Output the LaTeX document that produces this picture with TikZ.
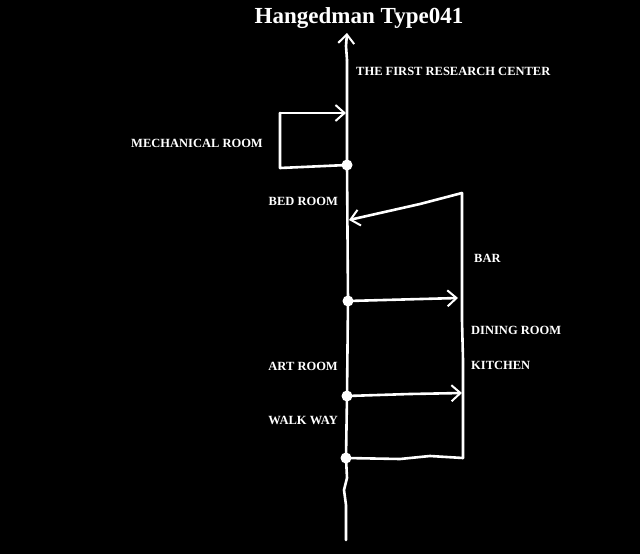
\documentclass[tikz,border=0pt]{standalone}
\usepackage{fontspec}
\setmainfont{Liberation Serif}
\usetikzlibrary{arrows.meta}
\begin{document}
\begin{tikzpicture}[x=1pt,y=-1pt,
  wire/.style={draw=white,line width=2.6pt,line cap=round,line join=round},
  arr/.style={wire,-{Straight Barb[length=9pt,width=16pt,line width=2pt]}},
  lbl/.style={text=white,font=\bfseries\fontsize{12.5}{14}\selectfont,inner sep=0pt},
  ttl/.style={text=white,font=\bfseries\fontsize{23}{26}\selectfont,inner sep=0pt},
  dot/.style={circle,fill=white,minimum size=11pt,inner sep=0pt}]
\fill[black] (0,0) rectangle (640,554);
\useasboundingbox (0,0) rectangle (640,554);
% title
\node[ttl] (title) at (359,18) {Hangedman Type041};
% main spine
\coordinate (bottom) at (346,540);
\coordinate (top) at (347,33);
\node[dot] (d1) at (347,165) {};
\node[dot] (d2) at (348,301) {};
\node[dot] (d3) at (347,396) {};
\node[dot] (d4) at (346,458) {};
\draw[wire] (bottom) -- (346,505) -- (344,490) -- (347,478) -- (d4.center) -- (d3.center) -- (d2.center) -- (d1.center) -- (347,60);
\draw[arr] (347,60) -- (346,46) -- (top);
% mechanical room loop
\coordinate (m1) at (280,113);
\coordinate (m2) at (280,168);
\coordinate (mend) at (346,113);
\draw[wire] (d1.center) -- (m2) -- (m1);
\draw[arr] (m1) -- (mend);
% right side
\coordinate (r1) at (462,193);
\coordinate (r2) at (463,458);
\coordinate (bedend) at (349,220);
\draw[wire] (r1) -- (462,320) -- (463,360) -- (r2);
\draw[arr] (r1) -- (420,204) -- (bedend);
\coordinate (a2) at (458,298);
\coordinate (a3) at (462,393);
\draw[arr] (d2.center) -- (a2);
\draw[arr] (d3.center) -- (410,394) -- (a3);
\draw[wire] (d4.center) -- (400,459) -- (430,456) -- (r2);
% labels
\node[lbl,anchor=west] (lfirst) at (356,71) {THE FIRST RESEARCH CENTER};
\node[lbl,anchor=east] (lmech) at (263,143) {MECHANICAL ROOM};
\node[lbl,anchor=east] (lbed) at (338,201) {BED ROOM};
\node[lbl,anchor=west] (lbar) at (474,258) {BAR};
\node[lbl,anchor=west] (ldin) at (471,330) {DINING ROOM};
\node[lbl,anchor=west] (lkit) at (471,365) {KITCHEN};
\node[lbl,anchor=east] (lart) at (338,366) {ART ROOM};
\node[lbl,anchor=east] (lwalk) at (338,420) {WALK WAY};
\end{tikzpicture}
\end{document}
